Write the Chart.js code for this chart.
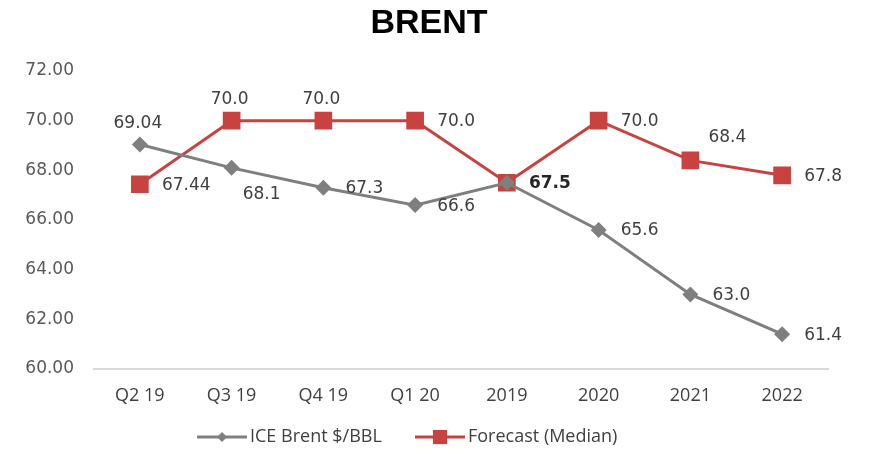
<!DOCTYPE html>
<html>
<head>
<meta charset="utf-8">
<script src="https://cdn.jsdelivr.net/npm/chart.js@4.4.1/dist/chart.umd.min.js"></script>
<style>
  html, body { margin: 0; padding: 0; background: #fff; }
  #wrap { width: 876px; height: 449px; position: relative; }
</style>
</head>
<body>
<div id="wrap"><canvas id="brent"></canvas></div>
<script>
// Data
const categories = ['Q2 19', 'Q3 19', 'Q4 19', 'Q1 20', '2019', '2020', '2021', '2022'];
const iceBrent = [69.04, 68.1, 67.3, 66.6, 67.5, 65.6, 63.0, 61.4];
const forecastMedian = [67.44, 70.0, 70.0, 70.0, 67.5, 70.0, 68.4, 67.8];
const iceBrentText = ['69.04', '68.1', '67.3', '66.6', '', '65.6', '63.0', '61.4'];
const forecastText = ['67.44', '70.0', '70.0', '70.0', '67.5', '70.0', '68.4', '67.8'];
const yTicks = [60, 62, 64, 66, 68, 70, 72];

const GREY = '#7f7f7f';
const RED = '#c8423f';

// label placement per point: t = above, r = right, br = below right, tr = above right
const greyPlace = ['t', 'br', 'r', 'r', '', 'r', 'r', 'r'];
const redPlace = ['r', 't', 't', 'r', 'r', 'r', 'tr', 'r'];

const labelFont = '17px "DejaVu Sans"';

const valueLabels = {
  id: 'valueLabels',
  afterDatasetsDraw(chart) {
    const ctx = chart.ctx;
    const sets = [
      { meta: chart.getDatasetMeta(0), text: iceBrentText, place: greyPlace, bold: [] },
      { meta: chart.getDatasetMeta(1), text: forecastText, place: redPlace, bold: [4] }
    ];
    ctx.save();
    ctx.textBaseline = 'middle';
    sets.forEach(s => {
      s.meta.data.forEach((pt, i) => {
        const p = s.place[i];
        const t = s.text[i];
        if (!p || !t) return;
        const isBold = s.bold.includes(i);
        ctx.font = (isBold ? 'bold ' : '') + labelFont;
        ctx.fillStyle = isBold ? '#262626' : '#404040';
        let x = pt.x, y = pt.y;
        if (p === 't') { ctx.textAlign = 'center'; x -= 2; y -= 21; }
        else if (p === 'r') { ctx.textAlign = 'left'; x += 22; y += 1; }
        else if (p === 'br') { ctx.textAlign = 'left'; x += 11; y += 27; }
        else if (p === 'tr') { ctx.textAlign = 'left'; x += 18; y -= 23; }
        ctx.fillText(t, x, y);
      });
    });
    ctx.restore();
  }
};

const titleAndLegend = {
  id: 'titleAndLegend',
  afterDraw(chart) {
    const ctx = chart.ctx;
    ctx.save();
    // title
    ctx.font = 'bold 34px "Liberation Sans"';
    ctx.fillStyle = '#000';
    ctx.textAlign = 'center';
    ctx.textBaseline = 'middle';
    ctx.fillText('BRENT', 429, 24);

    // legend
    const ly = 437;
    ctx.font = '18px "Open Sans"';
    ctx.textAlign = 'left';
    ctx.fillStyle = '#404040';
    const items = [
      { x: 197, color: GREY, style: 'rectRot', r: 5, label: 'ICE Brent $/BBL' },
      { x: 415, color: RED, style: 'rect', r: 10, label: 'Forecast (Median)' }
    ];
    items.forEach(it => {
      ctx.strokeStyle = it.color;
      ctx.lineWidth = 3;
      ctx.beginPath();
      ctx.moveTo(it.x, ly);
      ctx.lineTo(it.x + 50, ly);
      ctx.stroke();
      ctx.fillStyle = it.color;
      Chart.helpers.drawPoint(ctx, { pointStyle: it.style, radius: it.r, borderWidth: 0 }, it.x + 25, ly);
      ctx.fillStyle = '#404040';
      ctx.fillText(it.label, it.x + 53, ly);
    });
    ctx.restore();
  }
};

new Chart(document.getElementById('brent'), {
  type: 'line',
  data: {
    labels: categories,
    datasets: [
      {
        label: 'ICE Brent $/BBL',
        data: iceBrent,
        borderColor: GREY,
        backgroundColor: GREY,
        borderWidth: 3,
        pointStyle: 'rectRot',
        pointRadius: 8,
        pointBorderWidth: 0,
        pointBackgroundColor: GREY,
        tension: 0
      },
      {
        label: 'Forecast (Median)',
        data: forecastMedian,
        borderColor: RED,
        backgroundColor: RED,
        borderWidth: 3,
        pointStyle: 'rect',
        pointRadius: 12.5,
        pointBorderWidth: 0,
        pointBackgroundColor: RED,
        tension: 0
      }
    ]
  },
  options: {
    responsive: true,
    maintainAspectRatio: false,
    animation: false,
    layout: { padding: { top: 71, left: 10, right: 48, bottom: 40 } },
    plugins: {
      legend: { display: false },
      title: { display: false },
      tooltip: { enabled: false }
    },
    scales: {
      x: {
        offset: true,
        grid: { display: false, drawTicks: false },
        border: { display: true, color: '#d9d9d9', width: 2 },
        ticks: { color: '#404040', font: { family: 'Open Sans', size: 18 }, padding: 16, maxRotation: 0 },
        afterFit: (scale) => { scale.height = 40; }
      },
      y: {
        min: 60,
        max: 72,
        afterBuildTicks: (scale) => { scale.ticks = yTicks.map(v => ({ value: v })); },
        grid: { display: false, drawTicks: false },
        border: { display: false },
        ticks: {
          color: '#595959',
          font: { family: 'DejaVu Sans', size: 17 },
          padding: 20,
          callback: v => Number(v).toFixed(2)
        },
        afterFit: (scale) => { scale.width = 84; }
      }
    }
  },
  plugins: [valueLabels, titleAndLegend]
});
</script>
</body>
</html>
